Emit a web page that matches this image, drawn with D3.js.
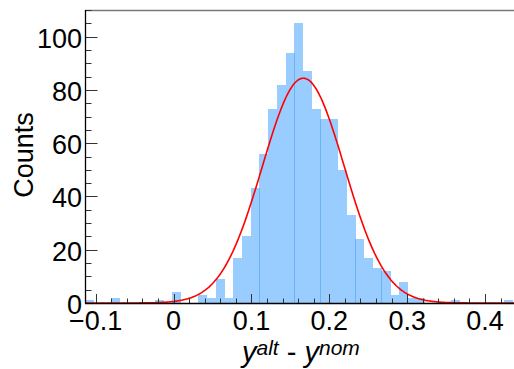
<!DOCTYPE html>
<html><head><meta charset="utf-8">
<script src="https://cdn.jsdelivr.net/npm/d3@7"></script>
<style>
html,body{margin:0;padding:0;background:#fff;}
svg{display:block;}
text{font-family:"Liberation Sans",Arial,Helvetica,sans-serif;fill:#000;}
</style></head>
<body>
<svg id="c" width="514" height="369"></svg>
<script>
// Histogram: first bin lower edge and bin width (x units)
const binStart = -0.1138;
const binWidth = 0.0112;
const counts = [1,0,0,2,0,0,0,0,1,0,4,0,0,3,2,9,2,17,25,43,56,73,82,94,105,87,73,69,69,50,33,24,17,13,12,3,8,2,2,0,0,0,1,0,0,0,0,0,1];
// Gaussian fit parameters
const fitAmp = 84.4, fitMean = 0.1666, fitSigma = 0.0527;
// Bin edges where rendering seams appear
const seamEdges = [20,24,27,31,34];
const xMajor = [-0.1,0,0.1,0.2,0.3,0.4];
const xMajorLabels = ["\u22120.1","0","0.1","0.2","0.3","0.4"];
const yMajor = [0,20,40,60,80,100];

const svg = d3.select("#c");
const L=85, R=514, T=10, B=303;
const x = d3.scaleLinear().domain([-0.1138,0.4372]).range([L,R]);
const y = d3.scaleLinear().domain([0,110]).range([B,T]);

// bars
svg.append("g").selectAll("rect").data(counts).join("rect")
  .attr("x",(d,i)=>x(binStart+i*binWidth))
  .attr("width",(d,i)=>x(binStart+(i+1)*binWidth)-x(binStart+i*binWidth)+0.3)
  .attr("y",d=>y(d))
  .attr("height",d=>B-y(d))
  .attr("fill","#99ccff")
  .attr("shape-rendering","crispEdges");

// seams
svg.append("g").selectAll("line").data(seamEdges).join("line")
  .attr("x1",k=>Math.round(x(binStart+k*binWidth))+0.5)
  .attr("x2",k=>Math.round(x(binStart+k*binWidth))+0.5)
  .attr("y1",B)
  .attr("y2",k=>y(Math.min(counts[k-1],counts[k])))
  .attr("stroke","#6fb2f2").attr("stroke-width",1);

// gaussian curve
const xs = d3.range(0,401).map(i=>-0.1138+i*(0.4372+0.1138)/400);
const line = d3.line().x(v=>x(v)).y(v=>y(fitAmp*Math.exp(-0.5*Math.pow((v-fitMean)/fitSigma,2))));
svg.append("path").datum(xs).attr("d",line)
  .attr("fill","none").attr("stroke","#ff0000").attr("stroke-width",1.6);

// frame top
svg.append("line").attr("x1",L).attr("x2",R).attr("y1",T+0.5).attr("y2",T+0.5)
  .attr("stroke","#7a7a7a").attr("stroke-width",1.5);

// y ticks
const yMinor = d3.range(0,111,5);
svg.append("g").selectAll("line").data(yMinor).join("line")
  .attr("x1",L).attr("x2",d=>L+(d%20===0?12.5:6.5))
  .attr("y1",d=>Math.round(y(d))+0.5).attr("y2",d=>Math.round(y(d))+0.5)
  .attr("stroke","#333").attr("stroke-width",1);
// x ticks
const xMinor = d3.range(-0.1,0.4201,0.02);
svg.append("g").selectAll("line").data(xMinor).join("line")
  .attr("x1",d=>Math.round(x(d))+0.5).attr("x2",d=>Math.round(x(d))+0.5)
  .attr("y1",B).attr("y2",d=>B-(Math.abs(Math.round(d*50))%5===0?9:4.5))
  .attr("stroke","#333").attr("stroke-width",1);

// axes lines
svg.append("line").attr("x1",L+0.5).attr("x2",L+0.5).attr("y1",T).attr("y2",B+0.5).attr("stroke","#000").attr("stroke-width",1.3);
svg.append("line").attr("x1",L).attr("x2",R).attr("y1",B+0.5).attr("y2",B+0.5).attr("stroke","#000").attr("stroke-width",1.3);

// y labels
svg.append("g").selectAll("text").data(yMajor).join("text")
  .attr("x",82).attr("y",d=>y(d)+11)
  .attr("text-anchor","end").attr("font-size",27).text(d=>d);
// x labels
svg.append("g").selectAll("text").data(xMajor).join("text")
  .attr("x",d=>x(d)).attr("y",330)
  .attr("text-anchor","middle").attr("font-size",27).text((d,i)=>xMajorLabels[i]);

// axis titles
svg.append("text").attr("transform","translate(33,155) rotate(-90)")
  .attr("text-anchor","middle").attr("font-size",27).text("Counts");
const xt = svg.append("text").attr("x",242).attr("y",362).attr("font-size",29);
xt.append("tspan").attr("font-style","italic").text("y");
xt.append("tspan").attr("font-style","italic").attr("font-size",21).attr("dy",-7).text("alt");
xt.append("tspan").attr("dy",7).text(" - ");
xt.append("tspan").attr("font-style","italic").text("y");
xt.append("tspan").attr("font-style","italic").attr("font-size",21).attr("dy",-7).text("nom");
</script>
</body></html>
